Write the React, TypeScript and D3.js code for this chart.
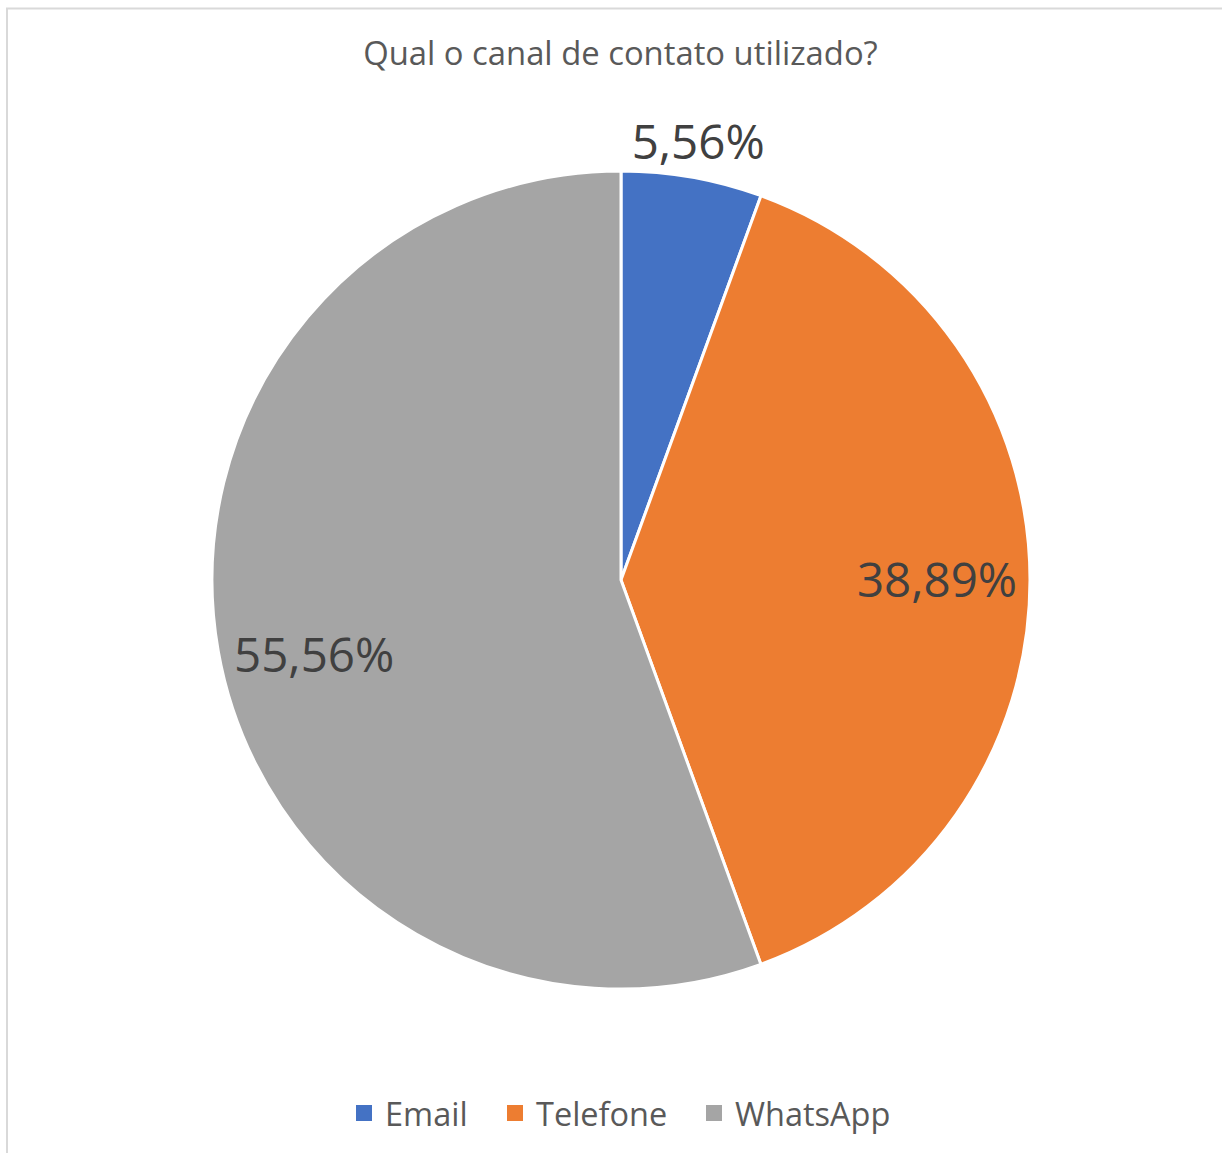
import React, { useEffect, useRef } from "react";
import * as d3 from "d3";

const categories = ["Email", "Telefone", "WhatsApp"];
const percents = [5.56, 38.89, 55.56];
const labels = ["5,56%", "38,89%", "55,56%"];
const colors = ["#4472c4", "#ed7d31", "#a5a5a5"];

const W = 1222;
const H = 1153;

export default function App() {
  const ref = useRef<SVGSVGElement>(null);

  useEffect(() => {
    const svg = d3.select(ref.current);
    svg.selectAll("*").remove();
    const font = "'Open Sans', sans-serif";

    svg
      .append("rect")
      .attr("x", 7)
      .attr("y", 8.5)
      .attr("width", W - 6)
      .attr("height", H - 6)
      .attr("fill", "#fff")
      .attr("stroke", "#d9d9d9")
      .attr("stroke-width", 2);

    svg
      .append("text")
      .attr("x", 620.5)
      .attr("y", 65)
      .attr("text-anchor", "middle")
      .attr("font-family", font)
      .attr("font-size", 32.8)
      .attr("fill", "#595959")
      .text("Qual o canal de contato utilizado?");

    const cx = 621;
    const cy = 580;
    const r = 409;
    const data = categories.map((c, i) => ({ c, v: percents[i], label: labels[i], color: colors[i] }));
    const pie = d3.pie<any>().value((d) => d.v).sort(null);
    const arcs = pie(data);
    const arc = d3.arc<any>().innerRadius(0).outerRadius(r);

    const g = svg.append("g").attr("transform", `translate(${cx},${cy})`);
    g.selectAll("path")
      .data(arcs)
      .join("path")
      .attr("d", arc)
      .attr("fill", (d) => d.data.color)
      .attr("stroke", "#fff")
      .attr("stroke-width", 3)
      .attr("stroke-linejoin", "round");

    // label radii / angle nudges (degrees), Excel "best fit" style
    const labelR = [444, 316, 316];
    const labelShift = [0, 0, -3.8];
    g.selectAll("text.lbl")
      .data(arcs)
      .join("text")
      .attr("class", "lbl")
      .attr("transform", (d, i) => {
        const a = (d.startAngle + d.endAngle) / 2 + (labelShift[i] * Math.PI) / 180;
        const rr = labelR[i];
        return `translate(${Math.sin(a) * rr},${-Math.cos(a) * rr})`;
      })
      .attr("text-anchor", "middle")
      .attr("dy", "0.35em")
      .attr("font-family", font)
      .attr("font-size", 47.5)
      .attr("fill", "#404040")
      .text((d) => d.data.label);

    const legendX = [356, 507, 706];
    const lg = svg.append("g");
    data.forEach((d, i) => {
      lg.append("rect")
        .attr("x", legendX[i])
        .attr("y", 1105)
        .attr("width", 16)
        .attr("height", 16)
        .attr("fill", d.color);
      lg.append("text")
        .attr("x", legendX[i] + 29)
        .attr("y", 1126)
        .attr("font-family", font)
        .attr("font-size", 32.5)
        .attr("fill", "#595959")
        .text(d.c);
    });
  }, []);

  return (
    <svg
      ref={ref}
      width={W}
      height={H}
      style={{ position: "absolute", left: 0, top: 0 }}
    />
  );
}
